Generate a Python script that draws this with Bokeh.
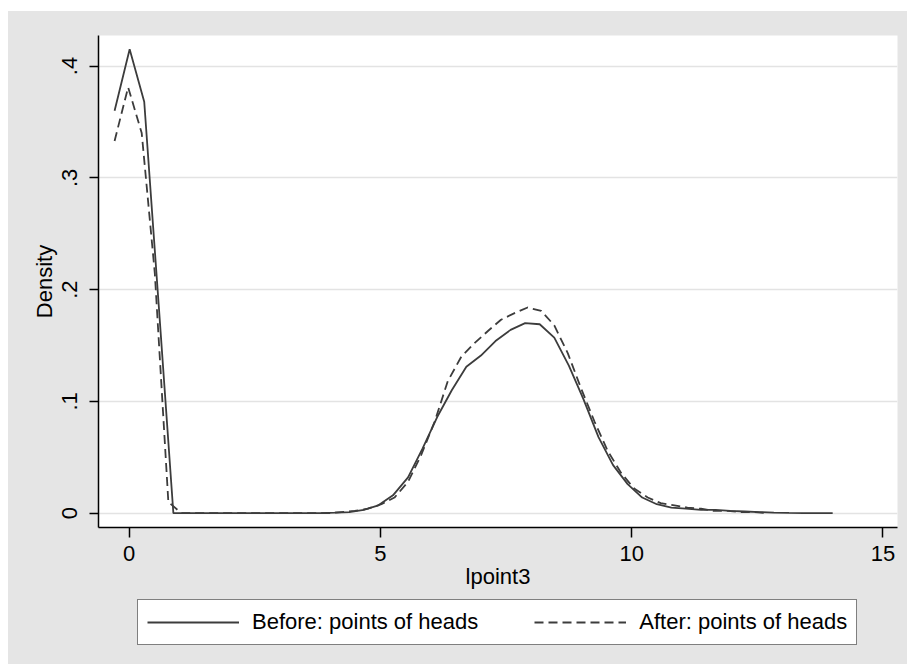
from bokeh.plotting import figure
from bokeh.layouts import column
from bokeh.models import Range1d, FixedTicker, CustomJSTickFormatter, Legend, LegendItem
from bokeh.embed import file_html
from bokeh.resources import INLINE

# Kernel density estimates of lpoint3
x_before = [-0.29, 0.01, 0.30, 0.59, 0.88, 1.17, 1.46, 1.75, 2.05, 2.34,
            2.63, 2.92, 3.21, 3.50, 3.79, 4.09, 4.38, 4.67, 4.96, 5.25,
            5.55, 5.84, 6.13, 6.42, 6.71, 7.00, 7.29, 7.59, 7.88, 8.17,
            8.46, 8.75, 9.04, 9.34, 9.63, 9.92, 10.21, 10.50, 10.79, 11.08,
            11.38, 11.67, 11.96, 12.25, 12.54, 12.83, 13.13, 13.42, 13.71, 14.00]
y_before = [0.360, 0.415, 0.368, 0.185, 0.0, 0.0, 0.0, 0.0, 0.0, 0.0,
            0.0, 0.0, 0.0, 0.0, 0.0, 0.0005, 0.001, 0.003, 0.007, 0.016,
            0.032, 0.058, 0.086, 0.110, 0.131, 0.141, 0.154, 0.164, 0.170, 0.169,
            0.157, 0.132, 0.102, 0.068, 0.043, 0.026, 0.014, 0.008, 0.005, 0.004,
            0.003, 0.003, 0.002, 0.0015, 0.001, 0.0005, 0.0002, 0.0001, 0.0, 0.0]

x_after = [-0.29, -0.02, 0.25, 0.51, 0.78, 1.04, 1.31, 1.57, 1.84, 2.10,
           2.37, 2.63, 2.90, 3.16, 3.43, 3.69, 3.96, 4.22, 4.49, 4.75,
           5.02, 5.28, 5.55, 5.81, 6.08, 6.34, 6.61, 6.87, 7.14, 7.40,
           7.67, 7.93, 8.20, 8.46, 8.73, 8.99, 9.26, 9.52, 9.79, 10.05,
           10.32, 10.58, 10.85, 11.11, 11.38, 11.64, 11.91, 12.17, 12.44, 12.70]
y_after = [0.333, 0.381, 0.340, 0.215, 0.010, 0.0, 0.0, 0.0, 0.0, 0.0,
           0.0, 0.0, 0.0, 0.0, 0.0, 0.0, 0.0, 0.001, 0.002, 0.004,
           0.008, 0.014, 0.028, 0.052, 0.082, 0.118, 0.140, 0.152, 0.163, 0.173,
           0.179, 0.184, 0.181, 0.168, 0.143, 0.112, 0.082, 0.056, 0.036, 0.022,
           0.014, 0.009, 0.007, 0.005, 0.004, 0.002, 0.002, 0.001, 0.001, 0.0]

x_ticks = [0, 5, 10, 15]
y_ticks = [0, 0.1, 0.2, 0.3, 0.4]
label_before = "Before: points of heads"
label_after = "After: points of heads"
x_title = "lpoint3"
y_title = "Density"

FONT = "Liberation Sans"
FS = "22px"
BG = "#e5e5e5"
LINE = "#3c3c3c"
DASH = "9 5"

# ---- main plot ----
p = figure(frame_width=799, frame_height=492,
           x_range=Range1d(-0.61, 15.29), y_range=Range1d(-0.0128, 0.4273),
           output_backend="svg", toolbar_location=None,
           background_fill_color="white", border_fill_color=BG,
           outline_line_color=None,
           min_border_left=90, min_border_top=24, min_border_right=10,
           min_border_bottom=72)

p.line(x_before, y_before, line_color=LINE, line_width=1.8)
p.line(x_after, y_after, line_color=LINE, line_width=1.8, line_dash=DASH)

for ax in (p.xaxis[0], p.yaxis[0]):
    ax.axis_line_color = "black"
    ax.axis_line_width = 1.5
    ax.major_tick_line_color = "black"
    ax.major_tick_line_width = 1.5
    ax.major_tick_in = 0
    ax.minor_tick_line_color = None
    ax.major_label_text_font = FONT
    ax.major_label_text_font_size = FS
    ax.major_label_text_color = "black"
    ax.axis_label_text_font = FONT
    ax.axis_label_text_font_size = FS
    ax.axis_label_text_font_style = "normal"
    ax.axis_label_text_color = "black"

p.xaxis.ticker = FixedTicker(ticks=x_ticks)
p.yaxis.ticker = FixedTicker(ticks=y_ticks)
p.xaxis.major_tick_out = 10
p.yaxis.major_tick_out = 9
p.xaxis.major_label_standoff = 8
p.yaxis.major_label_standoff = 12
p.yaxis.major_label_orientation = "vertical"
p.yaxis.formatter = CustomJSTickFormatter(code="""
    if (Math.abs(tick) < 1e-9) return "0";
    return tick.toFixed(1).replace(/^0/, "");
""")
p.xaxis.axis_label = x_title
p.yaxis.axis_label = y_title
p.xaxis.axis_label_standoff = 0
p.yaxis.axis_label_standoff = 3

p.xgrid.grid_line_color = None
p.ygrid.grid_line_color = "#e3e3e3"
p.ygrid.grid_line_width = 1.5

# ---- legend strip below the plot (same borders as the main plot) ----
q = figure(frame_width=799, frame_height=65,
           x_range=Range1d(100, 101), y_range=Range1d(0, 1),
           output_backend="svg", toolbar_location=None,
           x_axis_location=None, y_axis_location=None,
           background_fill_color=BG, border_fill_color=BG,
           outline_line_color=None,
           min_border_left=90, min_border_right=10, min_border_top=0,
           min_border_bottom=0)
q.grid.visible = False
k1 = q.line(x_before, y_before, line_color=LINE, line_width=1.8)
k2 = q.line(x_after, y_after, line_color=LINE, line_width=1.8, line_dash=DASH)

legend = Legend(items=[LegendItem(label=label_before, renderers=[k1]),
                       LegendItem(label=label_after, renderers=[k2])],
                location=(39, 19), orientation="horizontal",
                border_line_color="black", border_line_width=1.5,
                background_fill_color="white", background_fill_alpha=1.0,
                label_text_font=FONT, label_text_font_size=FS,
                label_text_color="black",
                glyph_width=92, glyph_height=20, label_standoff=13,
                spacing=56, padding=9, margin=0)
q.add_layout(legend, "center")

layout = column(p, q, spacing=0, margin=(11, 0, 0, 8),
                styles={"background-color": BG})

open("out.html", "w").write(file_html(layout, INLINE))
